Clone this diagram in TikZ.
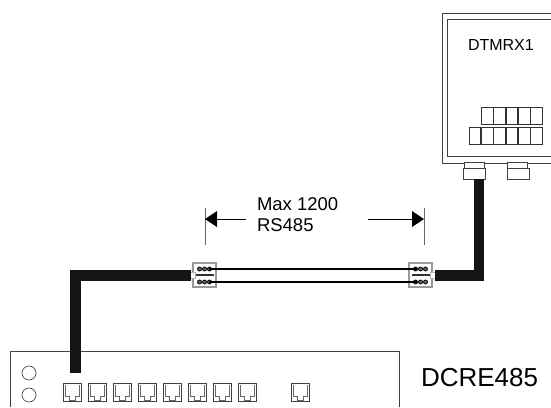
\documentclass[tikz,border=0pt]{standalone}
\usepackage{fontspec}
\setmainfont{Liberation Sans}
\newcommand{\labelsize}{\fontsize{18.5}{18.5}\selectfont}
\begin{document}
\begin{tikzpicture}[x=1pt,y=-1pt]
        \tikzset{every node/.style={inner sep=0pt,outer sep=0pt},
            line/.style={draw=black!75,line width=0.8pt},
            cable/.style={draw=black!92,line width=10.5pt},
            wire/.style={draw=black,line width=1.5pt},
            cell/.style={draw=black!80,line width=0.7pt,minimum width=11.5pt,minimum height=17pt},
            gland/.style={draw=black!75,fill=white,line width=0.8pt,minimum width=22pt,minimum height=11pt},
            neck/.style={draw=black!75,fill=white,line width=0.8pt,minimum width=20pt,minimum height=6pt},
            lamp/.style={draw=black!70,circle,line width=0.7pt,minimum size=14pt},
            joint/.style={draw=black!40,fill=white,line width=1.3pt,minimum width=23pt,minimum height=24pt},
            stub/.style={draw=black!30,fill=white,line width=0.4pt,minimum width=5pt,minimum height=6pt},
            pin/.style={draw=black,fill=black!60,circle,line width=0.8pt,minimum size=4pt},
            port/.pic={
                \draw[draw=black!75,line width=0.9pt] (-9,-9) rectangle (9,9);
                \draw[draw=black!60,line width=0.7pt] (-7,-7) -- (-7,4) -- (-3,4) -- (-3,8) -- (3,8) -- (3,4) -- (7,4) -- (7,-7);
            }}
        \useasboundingbox (0,0) rectangle (551,407);
        % enclosure on the right
        \draw[line] (551,13) -- (442,13) -- (442,163) -- (551,163);
        \draw[line] (551,19) -- (447,19) -- (447,156) -- (551,156);
        \node[anchor=base west] (dtmrx) at (468,50) {\fontsize{16}{16}\selectfont DTMRX1};
        \foreach \i in {0,...,4}
            \node[cell] (up\i) at (487.2+\i*12.3,115.5) {};
        \foreach \i in {0,...,5}
            \node[cell] (low\i) at (474.9+\i*12.3,135.5) {};
        \node[neck] (necka) at (474,165.5) {};
        \node[gland] (glanda) at (474.5,173.5) {};
        \node[neck] (neckb) at (517.5,165.5) {};
        \node[gland] (glandb) at (518.5,173.5) {};
        % main unit
        \draw[line] (10,407) -- (10,351) -- (399,351) -- (399,407);
        \node[lamp] (lampa) at (29,373) {};
        \node[lamp] (lampb) at (29,395) {};
        \foreach \i in {0,...,7}
            \pic at (72+\i*25,392) {port};
        \pic at (300,392) {port};
        \node[anchor=base west] (dcre) at (421,386) {\fontsize{26}{26}\selectfont DCRE485};
        % joints and cables
        \node[joint] (jointl) at (204.5,275) {};
        \node[joint] (jointr) at (420.5,275) {};
        \foreach \j in {jointl,jointr} {
            \foreach \k in {0,1,2} {
                \node[pin] at ([xshift=-5pt+\k*5pt]\j.center |- 0,269) {};
                \node[pin] at ([xshift=-5pt+\k*5pt]\j.center |- 0,282) {};
            }
            \draw[draw=black!80,line width=1.5pt] ([xshift=-9pt]\j.center) -- ([xshift=9pt]\j.center);
        }
        \node[stub] (stubl) at (193,275.5) {};
        \node[stub] (stubr) at (432.5,275.5) {};
        \coordinate (busl) at (75.5,373);
        \coordinate (cornl) at (75.5,275.5);
        \coordinate (cornr) at (479,275.5);
        \draw[cable] (busl) -- (cornl) -- (stubl.west);
        \draw[cable] (cornr |- glanda.south) -- (cornr) -- (stubr.east);
        \draw[wire] (209,269) -- (417,269);
        \draw[wire] (209,282) -- (417,282);
        % dimension
        \coordinate (tickl) at (205,208);
        \coordinate (tickr) at (424,208);
        \draw[line,draw=black!60] (tickl) -- (205,245);
        \draw[line,draw=black!60] (tickr) -- (424,245);
        \node[anchor=base west] (maxtext) at (257,210) {\labelsize Max 1200};
        \node[anchor=base west] (rstext) at (257,231) {\labelsize RS485};
        \coordinate (arrl) at (246,219);
        \coordinate (arrr) at (368,219);
        \draw[line,black] (arrl) -- (216,219);
        \fill[black] (205,219) -- (217,211) -- (217,227) -- cycle;
        \draw[line,black] (arrr) -- (413,219);
        \fill[black] (424,219) -- (412,211) -- (412,227) -- cycle;
    \end{tikzpicture}
\end{document}
